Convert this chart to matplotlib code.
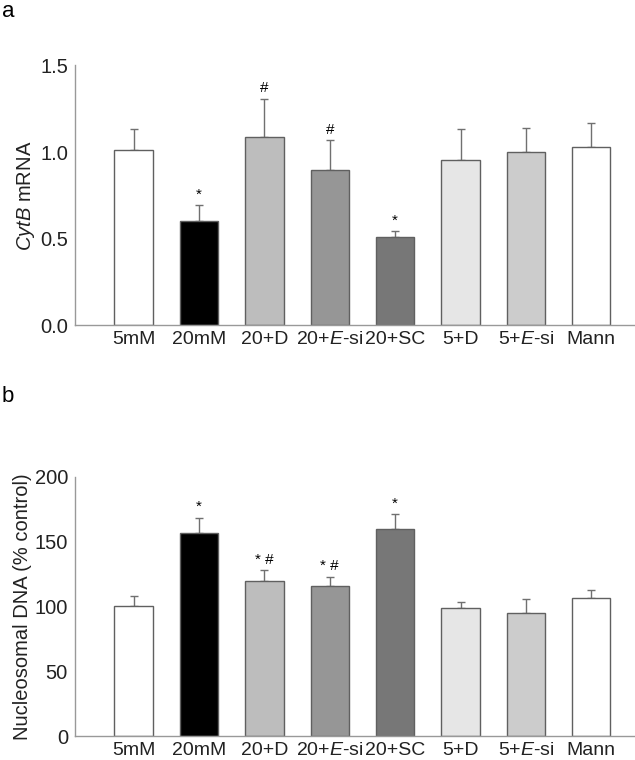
import matplotlib
matplotlib.use('Agg')
import matplotlib.pyplot as plt
import numpy as np

plt.rcParams['font.family'] = ['Liberation Sans', 'DejaVu Sans']
plt.rcParams['mathtext.fontset'] = 'custom'
plt.rcParams['mathtext.rm'] = 'Liberation Sans'
plt.rcParams['mathtext.it'] = 'Liberation Sans:italic'

groups = ['5mM', '20mM', '20+D', '20+$\\mathit{E}$-si', '20+SC', '5+D', '5+$\\mathit{E}$-si', 'Mann']
colors = ['#ffffff', '#000000', '#bdbdbd', '#969696', '#777777', '#e6e6e6', '#cccccc', '#ffffff']

# panel a: CytB mRNA
cytb = [1.01, 0.60, 1.087, 0.894, 0.51, 0.956, 1.002, 1.029]
cytb_err = [0.12, 0.095, 0.22, 0.173, 0.034, 0.177, 0.135, 0.138]
cytb_marks = ['', '*', '#', '#', '*', '', '', '']

# panel b: nucleosomal DNA
nuc = [100, 156.9, 119.5, 115.9, 159.5, 98.8, 95.2, 106.9]
nuc_err = [7.7, 11.1, 8.2, 7.1, 11.5, 4.8, 10.2, 5.7]
nuc_marks = ['', '*', '* #', '* #', '*', '', '', '']

fig = plt.figure(figsize=(6.35, 7.6), dpi=100)
ax1 = fig.add_axes([0.118, 0.572, 0.882, 0.342])
ax2 = fig.add_axes([0.118, 0.031, 0.882, 0.342])

x = np.arange(len(groups))

def panel(ax, vals, errs, marks, ymax, step, ylabel, off):
    ax.bar(x, vals, width=0.59, color=colors, edgecolor='#606060', linewidth=1.0, zorder=2)
    ax.errorbar(x, vals, yerr=[np.zeros(len(vals)), errs], fmt='none', ecolor='#707070',
                elinewidth=1.0, capsize=3, capthick=1.0, zorder=1)
    for xi, v, e, m in zip(x, vals, errs, marks):
        if m:
            ax.text(xi, v + e + off, m, ha='center', va='bottom', fontsize=11)
    ax.set_xlim(-0.9, 7.67)
    ax.set_ylim(0, ymax)
    ax.set_yticks(np.arange(0, ymax + step / 2, step))
    ax.set_xticks(x)
    ax.set_xticklabels(groups)
    ax.tick_params(axis='both', length=0, labelsize=14.5, colors='#222222')
    ax.tick_params(axis='x', pad=4, labelsize=14)
    ax.tick_params(axis='y', pad=5)
    ax.set_ylabel(ylabel, fontsize=14.5, color='#222222', labelpad=2)
    for s in ['top', 'right']:
        ax.spines[s].set_visible(False)
    for s in ['left', 'bottom']:
        ax.spines[s].set_color('#999999')
        ax.spines[s].set_linewidth(1.0)

panel(ax1, cytb, cytb_err, cytb_marks, 1.5, 0.5, '$\\mathit{CytB}$ mRNA', 0.02)
ax1.set_yticklabels(['0.0', '0.5', '1.0', '1.5'])
panel(ax2, nuc, nuc_err, nuc_marks, 200, 50, 'Nucleosomal DNA (% control)', 3)

fig.text(0.003, 0.999, 'a', fontsize=16, va='top', ha='left')
fig.text(0.003, 0.492, 'b', fontsize=16, va='top', ha='left')

plt.savefig('out.png', dpi=100)
